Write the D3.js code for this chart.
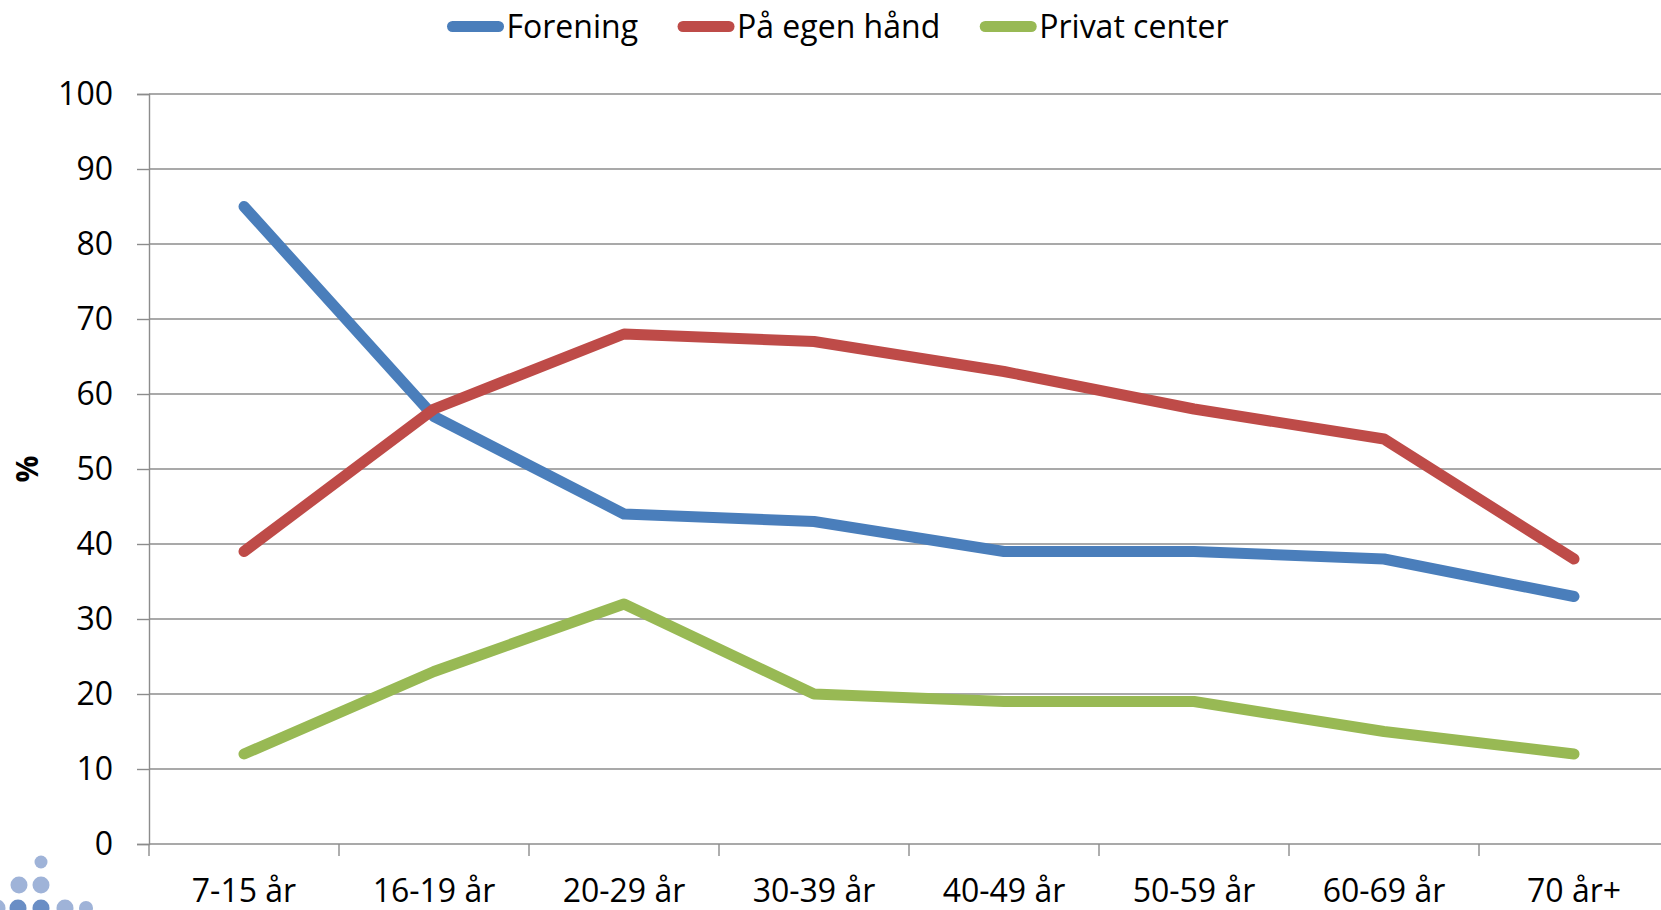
<!DOCTYPE html>
<html>
<head>
<meta charset="utf-8">
<script src="https://cdn.jsdelivr.net/npm/d3@7"></script>
<style>
  body { margin: 0; background: #fff; }
  svg { display: block; font-family: "Open Sans", sans-serif; }
</style>
</head>
<body>
<div id="container"></div>
<script>
// chart data
const categories = ["7-15 år", "16-19 år", "20-29 år", "30-39 år", "40-49 år", "50-59 år", "60-69 år", "70 år+"];
const forening = [85, 57, 44, 43, 39, 39, 38, 33];
const egenHaand = [39, 58, 68, 67, 63, 58, 54, 38];
const privatCenter = [12, 23, 32, 20, 19, 19, 15, 12];
const seriesNames = ["Forening", "På egen hånd", "Privat center"];
const seriesColors = ["#4a7ebb", "#be4b48", "#98b954"];
const yTicks = [0, 10, 20, 30, 40, 50, 60, 70, 80, 90, 100];

const width = 1661, height = 910;
const plotLeft = 149, plotTop = 94, plotBottom = 844;
const band = 190;
const fontFam = "'Open Sans', sans-serif";

let series = [forening, egenHaand, privatCenter].map((vals, i) => ({
  name: seriesNames[i],
  color: seriesColors[i],
  values: vals
}));

let svg = d3.select("#container").
  append("svg").
  attr("width", width).
  attr("height", height);

let x = d3.scaleBand().
  domain(categories).
  range([plotLeft, plotLeft + band * categories.length]).
  padding(0);

let y = d3.scaleLinear().
  domain([0, 100]).
  range([plotBottom, plotTop]);

// gridlines
svg.append("g").
  selectAll("line").
  data(yTicks.filter(d => d > 0)).
  enter().
  append("line").
  attr("x1", plotLeft).
  attr("x2", width).
  attr("y1", d => y(d)).
  attr("y2", d => y(d)).
  attr("stroke", "#8c8c8c").
  attr("stroke-width", 1.4);

// y axis
let yAxis = d3.axisLeft(y).
  tickValues(yTicks).
  tickSize(12).
  tickPadding(24);
let yg = svg.append("g").
  attr("transform", `translate(${plotLeft},0)`).
  call(yAxis);
yg.select(".domain").attr("stroke", "#8c8c8c").attr("stroke-width", 1.4);
yg.selectAll(".tick line").attr("stroke", "#8c8c8c").attr("stroke-width", 1.4);
yg.selectAll(".tick text").
  attr("font-size", 32).
  attr("font-family", fontFam).
  attr("fill", "#000");

// x axis line + ticks at band edges
svg.append("line").
  attr("x1", plotLeft).
  attr("x2", width).
  attr("y1", plotBottom).
  attr("y2", plotBottom).
  attr("stroke", "#8c8c8c").
  attr("stroke-width", 1.4);

svg.append("g").
  selectAll("line").
  data(categories).
  enter().
  append("line").
  attr("x1", d => x(d)).
  attr("x2", d => x(d)).
  attr("y1", plotBottom).
  attr("y2", plotBottom + 12).
  attr("stroke", "#8c8c8c").
  attr("stroke-width", 1.4);

svg.append("g").
  selectAll("text").
  data(categories).
  enter().
  append("text").
  attr("x", d => x(d) + x.bandwidth() / 2).
  attr("y", plotBottom + 58).
  attr("text-anchor", "middle").
  attr("font-size", 32).
  text(d => d);

// y title
svg.append("text").
  attr("transform", `translate(38,${(plotTop + plotBottom) / 2}) rotate(-90)`).
  attr("text-anchor", "middle").
  attr("font-size", 30).
  attr("font-weight", "bold").
  text("%");

// lines
let line = d3.line().
  x((d, i) => x(categories[i]) + x.bandwidth() / 2).
  y(d => y(d));

svg.append("g").
  selectAll("path").
  data(series).
  enter().
  append("path").
  attr("d", d => line(d.values)).
  attr("fill", "none").
  attr("stroke", d => d.color).
  attr("stroke-width", 11).
  attr("stroke-linecap", "round").
  attr("stroke-linejoin", "round");

// legend
let legend = svg.append("g").attr("id", "legend");
let lx = 0;
series.forEach(s => {
  let item = legend.append("g").attr("transform", `translate(${lx},0)`);
  item.append("line").
    attr("x1", 5).
    attr("x2", 51).
    attr("y1", 26.5).
    attr("y2", 26.5).
    attr("stroke", s.color).
    attr("stroke-width", 11).
    attr("stroke-linecap", "round");
  let t = item.append("text").
    attr("x", 59).
    attr("y", 38).
    attr("font-size", 32).
    text(s.name);
  lx += 59 + t.node().getComputedTextLength() + 40;
});
let lw = lx - 40;
legend.attr("transform", `translate(${838 - lw / 2},0)`);

// logo dots, bottom left
const logoDots = [
  [41, 862, 6.5, "#9fb3d8"],
  [19, 885, 8.5, "#9fb3d8"], [41, 885, 8.5, "#9fb3d8"],
  [-3, 908, 8.5, "#9fb3d8"], [18, 908, 8.5, "#6a8ec5"], [41, 908, 8.5, "#6a8ec5"],
  [65, 908, 8.5, "#9fb3d8"], [86, 908, 7, "#9fb3d8"]
];
svg.append("g").
  selectAll("circle").
  data(logoDots).
  enter().
  append("circle").
  attr("cx", d => d[0]).
  attr("cy", d => d[1]).
  attr("r", d => d[2]).
  attr("fill", d => d[3]);
</script>
</body>
</html>
